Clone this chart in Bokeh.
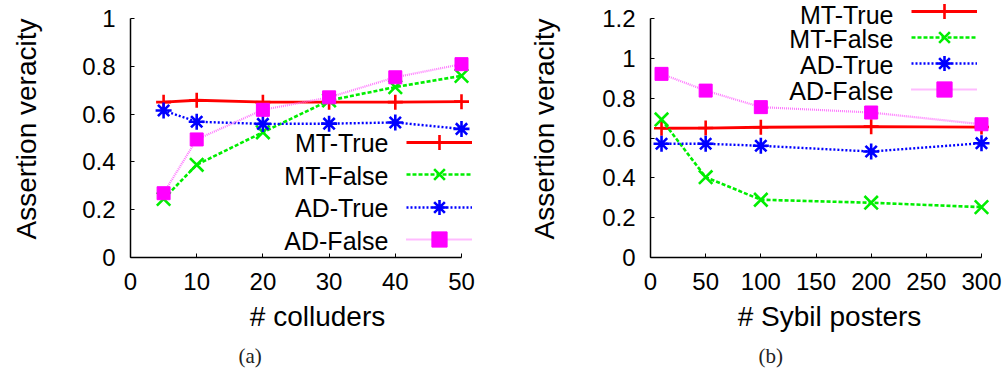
from bokeh.plotting import figure
from bokeh.layouts import row
from bokeh.models import (Range1d, FixedTicker, CustomJSTickFormatter, Legend,
                          LegendItem, Label, Title)
from bokeh.embed import file_html
from bokeh.resources import INLINE

# ---------------- data ----------------
colluders = [5, 10, 20, 30, 40, 50]
a_mt_true = [0.650, 0.658, 0.650, 0.650, 0.650, 0.652]
a_mt_false = [0.245, 0.388, 0.524, 0.657, 0.713, 0.760]
a_ad_true = [0.615, 0.568, 0.559, 0.560, 0.565, 0.538]
a_ad_false = [0.269, 0.494, 0.618, 0.670, 0.754, 0.809]

sybil = [10, 50, 100, 200, 300]
b_mt_true = [0.649, 0.650, 0.654, 0.657, 0.655]
b_mt_false = [0.693, 0.403, 0.290, 0.275, 0.253]
b_ad_true = [0.571, 0.571, 0.561, 0.532, 0.574]
b_ad_false = [0.922, 0.838, 0.755, 0.728, 0.669]

series_names = ["MT-True", "MT-False", "AD-True", "AD-False"]
a_xticks = [0, 10, 20, 30, 40, 50]
a_yticks = [0, 0.2, 0.4, 0.6, 0.8, 1.0]
b_xticks = [0, 50, 100, 150, 200, 250, 300]
b_yticks = [0, 0.2, 0.4, 0.6, 0.8, 1.0, 1.2]

FONT = "Liberation Sans"
W, H = 504, 377

STYLES = [
    dict(color="#ff0000", dash="solid", lw=2.8, marker="cross", msize=15, mcolor="#ff0000", fill=None),
    dict(color="#00ee00", dash="4 2", lw=2.6, marker="x", msize=19, mcolor="#00ee00", fill=None),
    dict(color="#0000ff", dash="2 2", lw=2.4, marker="asterisk", msize=16, mcolor="#0000ff", fill=None),
    dict(color="#ff77ff", dash="1 1", lw=2.2, marker="square", msize=13, mcolor="#ff00ff", fill="#ff00ff"),
]


def make_panel(xs, ys_list, xr, yr, xticks, yticks, xlabel, frame_l, frame_r,
               leg_x, leg_rows, text_right, text_rows, caption, cap_left, ytitle_standoff):
    axis_t, frame_b = 18, 257
    # frame spans full width to the right and full height to the top, so the
    # legend (which sits partly outside the axes box) is not clipped
    px_x = (xr[1] - xr[0]) / (frame_r - frame_l)
    px_y = (yr[1] - yr[0]) / (frame_b - axis_t)
    x_end = xr[1] + (W - frame_r) * px_x
    y_end = yr[1] + axis_t * px_y
    p = figure(width=W, height=H, output_backend="svg", toolbar_location=None,
               x_range=Range1d(xr[0], x_end), y_range=Range1d(yr[0], y_end),
               min_border_left=frame_l, min_border_right=0,
               min_border_top=0, min_border_bottom=H - frame_b)
    p.outline_line_color = None
    p.xgrid.grid_line_color = None
    p.ygrid.grid_line_color = None
    p.background_fill_color = "white"
    p.border_fill_color = "white"

    fmt = CustomJSTickFormatter(code="return (Math.round(tick*100)/100).toString();")
    for ax, ticks, bnd in ((p.xaxis[0], xticks, xr), (p.yaxis[0], yticks, yr)):
        ax.ticker = FixedTicker(ticks=ticks, minor_ticks=[])
        ax.bounds = bnd
        ax.formatter = fmt
        ax.axis_line_color = "black"
        ax.axis_line_width = 1.5
        ax.major_tick_in = 4
        ax.major_tick_out = 0
        ax.major_tick_line_width = 1
        ax.minor_tick_line_color = None
        ax.major_label_text_font = FONT
        ax.major_label_text_font_size = "24px"
        ax.major_label_text_color = "black"
        ax.axis_label_text_font = FONT
        ax.axis_label_text_font_size = "28px"
        ax.axis_label_text_font_style = "normal"
        ax.axis_label_text_color = "black"
    p.xaxis.axis_label = xlabel
    p.yaxis.axis_label = "Assertion veracity"
    p.xaxis.major_label_standoff = 15
    p.xaxis.axis_label_standoff = 8
    p.yaxis.major_label_standoff = 15
    p.yaxis.axis_label_standoff = ytitle_standoff

    gh = 38  # legend marker size is 0.4 * glyph height
    for name, ys, st, ry in zip(series_names, ys_list, STYLES, leg_rows):
        lr = p.line(xs, ys, line_color=st["color"], line_width=st["lw"], line_dash=st["dash"])
        if st["fill"]:
            sr = p.scatter(xs, ys, marker=st["marker"], size=st["msize"],
                           fill_color=st["fill"], line_color=st["mcolor"], line_width=1)
        else:
            sr = p.scatter(xs, ys, marker=st["marker"], size=st["msize"],
                           line_color=st["mcolor"], line_width=2.6)
        legend = Legend(items=[LegendItem(label=" ", renderers=[lr, sr])],
                        location=(leg_x - frame_l, frame_b - (ry + gh / 2)),
                        glyph_width=66, glyph_height=gh, spacing=0,
                        padding=0, margin=0, label_standoff=0, label_width=0,
                        label_height=10, label_text_font_size="1px", label_text_alpha=0,
                        border_line_color=None, background_fill_alpha=0)
        p.add_layout(legend, "center")

    for name, ry in zip(series_names, text_rows):
        p.add_layout(Label(x=text_right - frame_l, y=frame_b - ry, x_units="screen", y_units="screen",
                           text=name, text_align="right", text_baseline="middle",
                           text_font=FONT, text_font_size="25px", text_color="black"))

    p.add_layout(Title(text=caption, align="left", offset=cap_left - frame_l, standoff=14,
                       text_font="Liberation Serif", text_font_size="21px",
                       text_font_style="normal", text_color="#222222"), "below")
    return p


pa = make_panel(colluders, [a_mt_true, a_mt_false, a_ad_true, a_ad_false],
                (0, 50), (0, 1), a_xticks, a_yticks, "# colluders",
                frame_l=130, frame_r=461, leg_x=406, leg_rows=[141.7, 174.0, 206.7, 239.0],
                text_right=388, text_rows=[142.5, 175.0, 207.5, 240.0],
                caption="(a)", cap_left=238, ytitle_standoff=37)
pb = make_panel(sybil, [b_mt_true, b_mt_false, b_ad_true, b_ad_false],
                (0, 300), (0, 1.2), b_xticks, b_yticks, "# Sybil posters",
                frame_l=146, frame_r=477, leg_x=407, leg_rows=[11.0, 36.7, 63.3, 89.3],
                text_right=389, text_rows=[14.5, 38.0, 64.0, 90.0],
                caption="(b)", cap_left=254, ytitle_standoff=39)

layout = row(pa, pb, spacing=0)
open("out.html", "w").write(file_html(layout, INLINE))
